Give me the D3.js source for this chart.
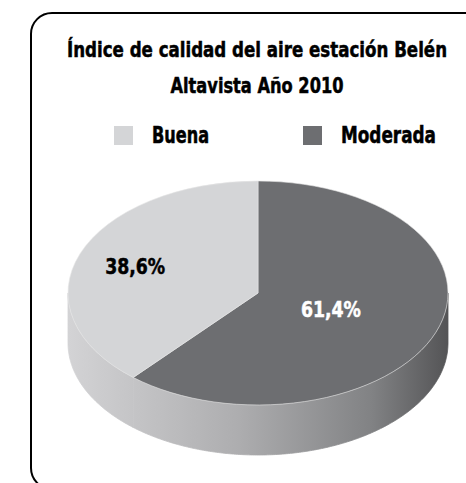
<!DOCTYPE html>
<html>
<head>
<meta charset="utf-8">
<script src="https://cdn.jsdelivr.net/npm/d3@7"></script>
<style>
  body { margin: 0; background: #fff; }
  text { font-family: "Liberation Sans Narrow", "DejaVu Sans Condensed", "Roboto", sans-serif; font-weight: bold; }
</style>
</head>
<body>
<svg id="chart" width="466" height="483"></svg>
<script>
// data
const categories = ['Moderada', 'Buena'];
const values = [61.4, 38.6];
const labels = ['61,4%', '38,6%'];
const legendOrder = ['Buena', 'Moderada'];
const titleLines = ['Índice de calidad del aire estación Belén', 'Altavista Año 2010'];

const topColor = d3.scaleOrdinal()
  .domain(['Buena', 'Moderada'])
  .range(['#d4d5d7', '#6d6e71']);
const labelColor = { Buena: '#000', Moderada: '#fff' };
// how far out (fraction of radius) each label sits
const labelRadius = { Buena: 0.69, Moderada: 0.41 };

// squeeze the wide fallback font to the condensed look of the original
const fit = (sel, w) => sel.attr('textLength', w).attr('lengthAdjust', 'spacingAndGlyphs');

const svg = d3.select('#chart');

// frame
svg.append('rect')
  .attr('x', 31).attr('y', 13)
  .attr('width', 460).attr('height', 476)
  .attr('rx', 21).attr('ry', 21)
  .attr('fill', 'none')
  .attr('stroke', '#000')
  .attr('stroke-width', 2);

// title
const titleW = [380, 173];
svg.selectAll('.title').data(titleLines).enter()
  .append('text')
    .attr('class', 'title')
    .attr('x', 257)
    .attr('y', (d, i) => 57 + i * 36)
    .attr('text-anchor', 'middle')
    .attr('font-size', 22)
    .attr('stroke', '#000')
    .attr('stroke-width', 0.5)
    .call(fit, (d, i) => titleW[i])
    .text(d => d);

// legend
const legendX = d3.scalePoint().domain(legendOrder).range([114, 303]);
const legendW = { Buena: 57, Moderada: 95 };
const lg = svg.selectAll('.legend').data(legendOrder).enter()
  .append('g')
    .attr('class', 'legend')
    .attr('transform', d => `translate(${legendX(d)}, 126)`);
lg.append('rect')
  .attr('width', 19).attr('height', 19)
  .attr('fill', d => topColor(d));
lg.append('text')
  .attr('x', 38).attr('y', 17)
  .attr('font-size', 23)
  .attr('stroke', '#000')
  .attr('stroke-width', 0.5)
  .call(fit, d => legendW[d])
  .text(d => d);

// 3D pie
const cx = 258, cy = 293, rx = 190, ry = 112, depth = 50;

const defs = svg.append('defs');
const grad = defs.append('linearGradient')
  .attr('id', 'side')
  .attr('gradientUnits', 'userSpaceOnUse')
  .attr('x1', cx - rx).attr('x2', cx + rx)
  .attr('y1', 0).attr('y2', 0);
[[0, '#d3d3d5'], [0.45, '#adadaf'], [0.8, '#818284'], [1, '#545456']].forEach(s => {
  grad.append('stop').attr('offset', s[0]).attr('stop-color', s[1]);
});

const pie = d3.pie().sort(null).value(d => d.value);
const arcs = pie(categories.map((c, i) => ({ key: c, value: values[i], label: labels[i] })));

const px = a => cx + rx * Math.sin(a);
const py = a => cy - ry * Math.cos(a);

const sideLine = d3.line();
const sides = svg.append('g').attr('class', 'sides');
arcs.forEach(d => {
  const s = Math.max(d.startAngle, Math.PI / 2);
  const e = Math.min(d.endAngle, Math.PI * 3 / 2);
  if (s >= e) return;
  const steps = d3.range(s, e, 0.01).concat([e]);
  const pts = steps.map(a => [px(a), py(a)])
    .concat(steps.slice().reverse().map(a => [px(a), py(a) + depth]));
  sides.append('path')
    .attr('d', sideLine(pts) + 'Z')
    .attr('fill', 'url(#side)')
    .attr('stroke', 'url(#side)')
    .attr('stroke-width', 0.8);
});

const arc = d3.arc().innerRadius(0).outerRadius(rx);
const topG = svg.append('g')
  .attr('transform', `translate(${cx},${cy}) scale(1,${ry / rx})`);
topG.selectAll('path').data(arcs).enter()
  .append('path')
    .attr('d', arc)
    .attr('fill', d => topColor(d.data.key))
    .attr('stroke', '#e6e6e6')
    .attr('stroke-width', 0.6)
    .attr('vector-effect', 'non-scaling-stroke');

const mid = d => (d.startAngle + d.endAngle) / 2;
svg.selectAll('.pct').data(arcs).enter()
  .append('text')
    .attr('class', 'pct')
    .attr('x', d => cx + rx * labelRadius[d.data.key] * Math.sin(mid(d)))
    .attr('y', d => cy - ry * labelRadius[d.data.key] * Math.cos(mid(d)))
    .attr('dy', '0.36em')
    .attr('text-anchor', 'middle')
    .attr('font-size', 22)
    .attr('fill', d => labelColor[d.data.key])
    .attr('stroke', d => labelColor[d.data.key])
    .attr('stroke-width', 0.5)
    .call(fit, 60)
    .text(d => d.data.label);
</script>
</body>
</html>
